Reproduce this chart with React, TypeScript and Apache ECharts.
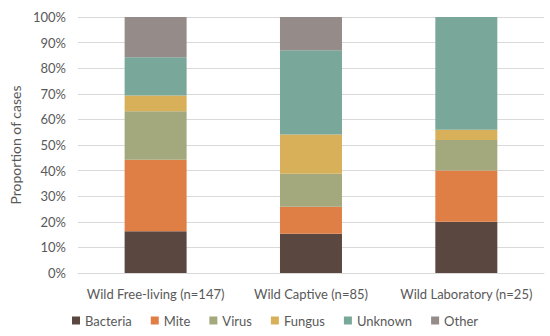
import React, { useEffect, useRef } from "react";
import * as echarts from "echarts";

const categories = ["Wild Free-living (n=147)", "Wild Captive (n=85)", "Wild Laboratory (n=25)"];
const seriesNames = ["Bacteria", "Mite", "Virus", "Fungus", "Unknown", "Other"];
const bacteria = [16.3, 15.3, 20];
const mite = [27.9, 10.6, 20];
const virus = [19.0, 12.9, 12];
const fungus = [6.1, 15.3, 4];
const unknown = [15.0, 32.9, 44];
const other = [15.7, 13.0, 0];
const yTicks = [0, 10, 20, 30, 40, 50, 60, 70, 80, 90, 100];
const colors = ["#5a4840", "#e07f45", "#a3a97c", "#d9b05a", "#79a79a", "#958b88"];

const allValues = [bacteria, mite, virus, fungus, unknown, other];

export default function App() {
  const ref = useRef<HTMLDivElement>(null);
  useEffect(() => {
    if (!ref.current) return;
    const chart = echarts.init(ref.current, undefined, { renderer: "svg" });
    const font = "Lato, 'Open Sans', sans-serif";
    chart.setOption({
      animation: false,
      textStyle: { fontFamily: font },
      grid: { left: 70, right: 6, top: 17, bottom: 63 },
      legend: {
        bottom: 4,
        left: "center",
        itemWidth: 8,
        itemHeight: 8,
        itemGap: 19,
        icon: "rect",
        textStyle: { color: "#595959", fontSize: 13, fontFamily: font },
        data: seriesNames,
      },
      xAxis: {
        type: "category",
        data: categories,
        axisLine: { lineStyle: { color: "#d9d9d9" } },
        axisTick: { show: false },
        axisLabel: { color: "#595959", fontSize: 13, margin: 14, interval: 0, fontFamily: font },
      },
      yAxis: {
        type: "value",
        min: 0,
        max: 100,
        interval: 10,
        name: "Proportion of cases",
        nameLocation: "middle",
        nameGap: 50,
        nameTextStyle: { color: "#595959", fontSize: 14, fontFamily: font },
        axisLabel: {
          color: "#595959",
          fontSize: 13,
          margin: 12,
          fontFamily: font,
          formatter: (v: number) => (yTicks.includes(v) ? v + "%" : ""),
        },
        splitLine: { lineStyle: { color: "#d9d9d9" } },
        axisLine: { show: false },
        axisTick: { show: false },
      },
      series: seriesNames.map((name, i) => ({
        name,
        type: "bar",
        stack: "total",
        barWidth: 62,
        itemStyle: { color: colors[i] },
        data: allValues[i],
      })),
    });
    return () => chart.dispose();
  }, []);
  return <div ref={ref} style={{ width: 550, height: 336, position: "absolute", left: 0, top: 0 }} />;
}
